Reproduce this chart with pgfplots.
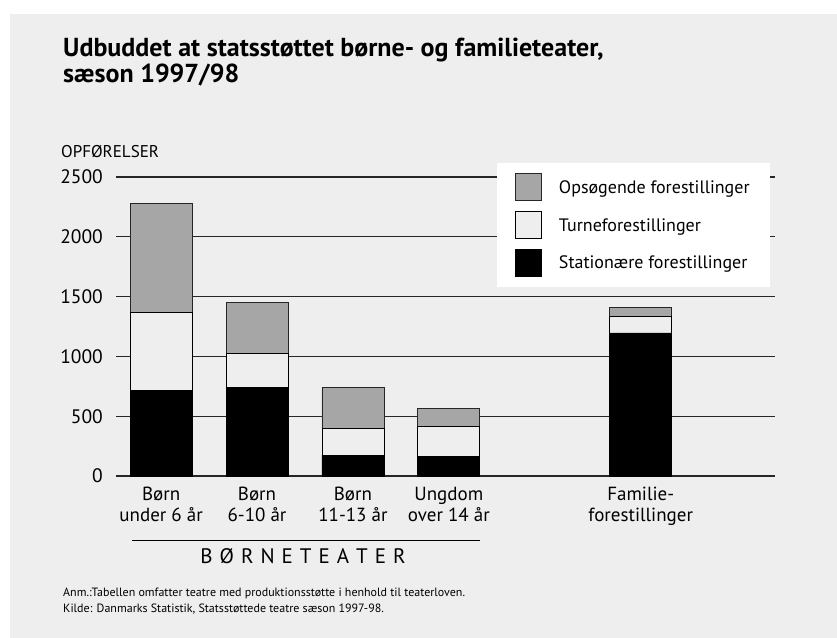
\documentclass[border=0pt]{standalone}
\usepackage{fontspec}
\setmainfont{PT Sans}
\usepackage{pgfplots}
\pgfplotsset{compat=1.18}
\definecolor{bg}{HTML}{EEEEEE}
\definecolor{opsg}{HTML}{A6A6A6}
\pgfplotsset{sqlegend/.style={legend image code/.code={\draw[##1] (0pt,-13pt) rectangle (26pt,14pt);}}}
\begin{document}
\begin{tikzpicture}[x=1pt,y=1pt]
\useasboundingbox (0,0) rectangle (837,637);
\fill[white] (0,0) rectangle (837,637);
\fill[bg] (10,-2) rectangle (839,623);
\begin{axis}[
  at={(116pt,161pt)}, anchor=south west,
  scale only axis, width=659pt, height=299pt,
  xmin=-0.47, xmax=6.4, ymin=0, ymax=2500,
  ybar stacked, bar width=62pt,
  axis line style={draw=none},
  major tick length=0pt,
  ymajorgrids, grid style={black!85, line width=1.1pt},
  ytick={0,500,1000,1500,2000,2500},
  yticklabel style={font=\fontsize{19.5}{21}\selectfont, anchor=east, inner sep=0pt, xshift=-13pt},
  /pgf/number format/assume math mode=true,
  /pgf/number format/1000 sep={},
  xtick={0,1,2,3,5},
  xticklabels={{Børn\\under 6 år},{Børn\\6-10 år},{Børn\\11-13 år},{Ungdom\\over 14 år},{Familie-\\forestillinger}},
  xticklabel style={font=\fontsize{19}{21}\selectfont, align=center, anchor=north, inner sep=0pt, yshift=-11pt},
  legend style={at={(rel axis cs:0.5781,1.0468)}, anchor=north west, fill=white, draw=none, inner xsep=18pt, inner ysep=10pt, font=\fontsize{18}{20}\selectfont, row sep=10pt, /tikz/every odd column/.append style={column sep=15pt}},
  legend cell align=left,
  reverse legend,
  clip=false,
]
\addplot[fill=black, draw=black, line width=0.8pt, sqlegend]
  coordinates {(0,716) (1,741) (2,173) (3,167) (5,1196)};
\addplot[fill=bg, draw=black, line width=0.8pt, sqlegend]
  coordinates {(0,649) (1,287) (2,223) (3,245) (5,136)};
\addplot[fill=opsg, draw=black!85, line width=0.8pt, sqlegend]
  coordinates {(0,915) (1,424) (2,345) (3,151) (5,75)};
\legend{Stationære forestillinger, Turneforestillinger, Opsøgende forestillinger}
\end{axis}
\node[anchor=base west, inner sep=0pt, font=\bfseries\fontsize{26}{28}\selectfont] at (63,580) {Udbuddet at statsstøttet børne- og familieteater,};
\node[anchor=base west, inner sep=0pt, font=\bfseries\fontsize{26}{28}\selectfont] at (63,554) {sæson 1997/98};
\node[anchor=base west, inner sep=0pt, font=\fontsize{17}{19}\selectfont] at (61,479) {OPFØRELSER};
\draw[black, line width=1pt] (132,97) -- (480,97);
\node[anchor=base, inner sep=0pt, font=\fontsize{21}{23}\selectfont] at (303,74) {B\kern7pt Ø\kern7pt R\kern7pt N\kern7pt E\kern7pt T\kern7pt E\kern7pt A\kern7pt T\kern7pt E\kern7pt R};
\node[anchor=base west, inner sep=0pt, font=\fontsize{12}{14}\selectfont] at (63,41) {Anm.:Tabellen omfatter teatre med produktionsstøtte i henhold til teaterloven.};
\node[anchor=base west, inner sep=0pt, font=\fontsize{12}{14}\selectfont] at (63,25) {Kilde: Danmarks Statistik, Statsstøttede teatre sæson 1997-98.};
\end{tikzpicture}
\end{document}
